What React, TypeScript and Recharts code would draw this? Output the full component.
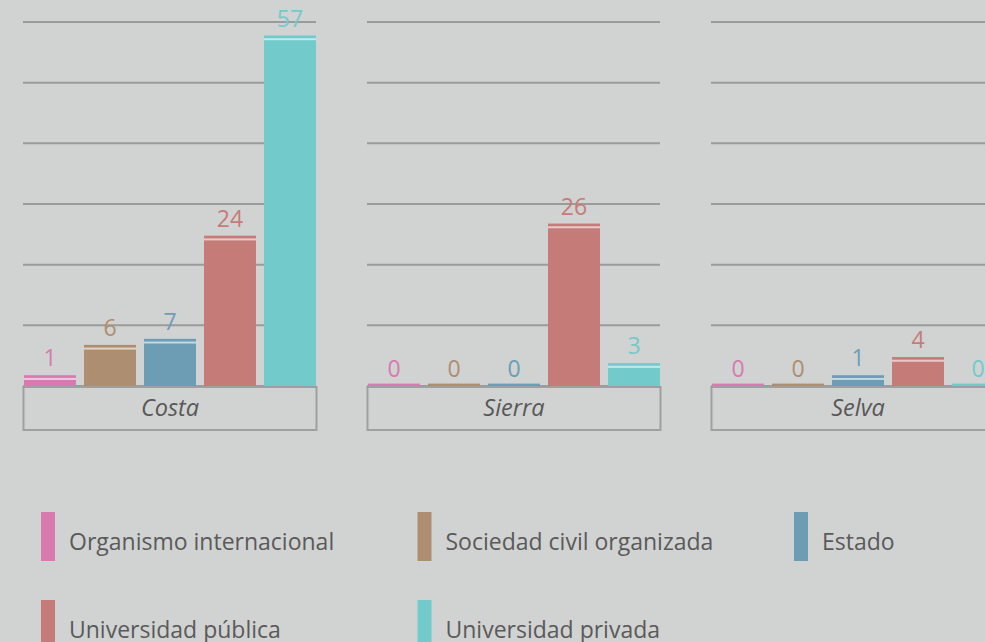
import React from 'react';
import { BarChart, Bar, XAxis, YAxis, CartesianGrid, LabelList, Legend } from 'recharts';

const regions = ['Costa', 'Sierra', 'Selva'];
const seriesNames = [
  'Organismo internacional',
  'Sociedad civil organizada',
  'Estado',
  'Universidad pública',
  'Universidad privada',
];
const seriesKeys = ['organismo', 'sociedad', 'estado', 'publica', 'privada'];
const organismo = [1, 0, 0];
const sociedad = [6, 0, 0];
const estado = [7, 0, 1];
const publica = [24, 26, 4];
const privada = [57, 3, 0];
const yTicks = [0, 10, 20, 30, 40, 50, 60];
const colors = ['#d87ab0', '#ae8e71', '#6d9db5', '#c57c79', '#72cacb'];

const seriesValues = [organismo, sociedad, estado, publica, privada];
const data = regions.map((r, i) => {
  const row: any = { region: r };
  seriesKeys.forEach((k, j) => {
    row[k] = seriesValues[j][i];
  });
  return row;
});

const BG = '#d1d3d2';
const FONT = '"Open Sans", sans-serif';

const GridSegments = (p: any) => {
  const band = (p.x2 - p.x1) / regions.length;
  return (
    <g key={p.key}>
      {regions.map((_, i) => (
        <line
          key={i}
          x1={p.x1 + i * band + 25}
          x2={p.x1 + (i + 1) * band - 26}
          y1={p.y1}
          y2={p.y2}
          stroke="#9b9b9b"
          strokeWidth={2}
        />
      ))}
    </g>
  );
};

const FacetTick = (p: any) => {
  const { x, y, payload } = p;
  return (
    <g>
      <rect x={x - 146.5} y={y + 1} width={293} height={43} fill="none" stroke="#9f9f9f" strokeWidth={2} />
      <text x={x} y={y + 30} textAnchor="middle" fontStyle="italic" fontSize={23.5} fill="#585858" fontFamily={FONT}>
        {payload.value}
      </text>
    </g>
  );
};

const makeShape = (color: string) => (p: any) => {
  const { x, y, width, height } = p;
  if (!height || height <= 0.5) {
    return <rect x={x} y={y - 2.4} width={width} height={2.7} fill={color} />;
  }
  const top = y - 4.7;
  return (
    <g>
      <rect x={x} y={top} width={width} height={height + 4.7} fill={color} />
      <rect x={x} y={top + 2.7} width={width} height={2} fill="#ffffff" opacity={0.6} />
    </g>
  );
};

const makeLabel = (color: string) => (p: any) => {
  const vb = p.viewBox || {};
  const x = p.x ?? vb.x;
  const y = p.y ?? vb.y;
  const width = p.width ?? vb.width;
  const value = p.value;
  const ty = Number(value) === 0 ? y - 9 : y - 13.5;
  return (
    <text x={x + width / 2} y={ty} textAnchor="middle" fill={color} fontSize={23} fontFamily={FONT}>
      {value}
    </text>
  );
};

const LegendContent = () => (
  <svg width={985} height={212} style={{ display: 'block' }}>
    {seriesNames.map((n, i) => {
      const col = i % 3;
      const row = Math.floor(i / 3);
      const lx = 41 + col * 376.5;
      const ly = 82 + row * 88;
      return (
        <g key={n}>
          <rect x={lx} y={ly} width={14} height={49} fill={colors[i]} />
          <text x={lx + 28} y={ly + 38} fontSize={23} fill="#5a5a5a" fontFamily={FONT}>
            {n}
          </text>
        </g>
      );
    })}
  </svg>
);

export default function App() {
  return (
    <div
      style={{
        position: 'absolute',
        left: 0,
        top: 0,
        width: 985,
        height: 642,
        overflow: 'hidden',
        background: BG,
      }}
    >
      <BarChart
        width={985}
        height={642}
        data={data}
        margin={{ top: 22, right: -45, bottom: 0, left: -2 }}
        barCategoryGap={26}
        barGap={8}
      >
        <CartesianGrid vertical={false} horizontal={GridSegments as any} />
        <YAxis hide width={0} domain={[0, 60]} ticks={yTicks} />
        <XAxis
          dataKey="region"
          height={44}
          axisLine={false}
          tickLine={false}
          tickSize={0}
          tickMargin={0}
          interval={0}
          tick={<FacetTick />}
        />
        <Legend
          verticalAlign="bottom"
          align="left"
          wrapperStyle={{ left: 0, bottom: 0, width: 985, height: 212 }}
          content={<LegendContent />}
        />
        {seriesKeys.map((k, i) => (
          <Bar
            key={k}
            dataKey={k}
            name={seriesNames[i]}
            fill={colors[i]}
            isAnimationActive={false}
            shape={makeShape(colors[i])}
          >
            <LabelList dataKey={k} content={makeLabel(colors[i])} />
          </Bar>
        ))}
      </BarChart>
    </div>
  );
}
